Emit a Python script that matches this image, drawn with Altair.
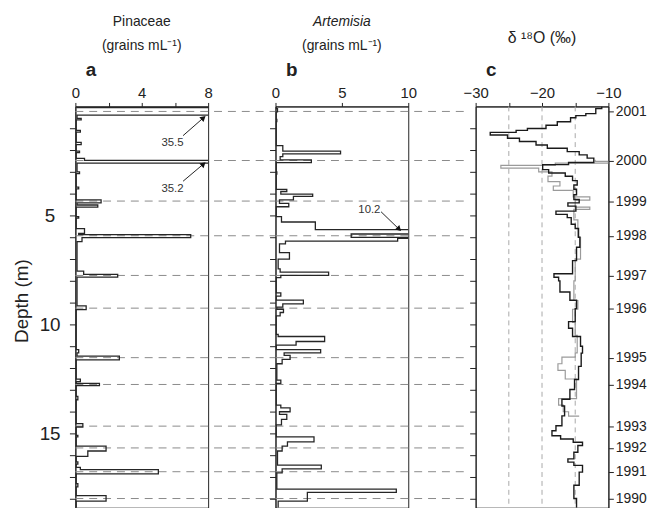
import altair as alt
import pandas as pd

FONT = "Liberation Sans"
INK = "#222222"
W = 134
H = 405
GAP = 68
DMAX = 18.4

# ---- data -------------------------------------------------------------
years = ["2001", "2000", "1999", "1998", "1997", "1996",
         "1995", "1994", "1993", "1992", "1991", "1990"]
year_depth = [0.23, 2.48, 4.34, 5.93, 7.75, 9.25,
              11.52, 12.75, 14.66, 15.66, 16.75, 17.98]

pin_depth = [0.00, 0.05, 0.40, 0.55, 0.62, 1.10, 1.18, 1.65, 1.75, 2.05, 2.12, 2.38,
             2.47, 2.60, 3.00, 3.08, 3.70, 3.78, 4.28, 4.42, 4.52, 4.62, 5.05, 5.12,
             5.60, 5.82, 5.88, 6.02, 6.20, 7.55, 7.70, 7.83, 9.15, 9.32, 11.15, 11.30,
             11.45, 11.62, 12.50, 12.62, 12.70, 12.80, 13.30, 13.45, 14.55, 14.70, 15.08,
             15.15, 15.58, 15.80, 16.05, 16.30, 16.40, 16.55, 16.65, 16.85, 17.30, 17.45,
             17.85, 18.10, 18.40]
pin_value = [0.1, 35.5, 0.1, 0.35, 0.05, 0.3, 0.05, 0.35, 0.05, 0.25, 0.05, 0.55,
             35.2, 0.1, 0.25, 0.05, 0.2, 0.05, 1.55, 0.1, 1.35, 0.05, 0.2, 0.05,
             0.55, 0.2, 6.95, 0.4, 0.1, 0.5, 2.55, 0.1, 0.65, 0.05, 0.2, 0.1,
             2.65, 0.05, 0.3, 0.05, 1.45, 0.05, 0.15, 0.05, 0.45, 0.05, 0.15,
             0.05, 1.85, 0.75, 0.05, 0.15, 0.05, 0.3, 5.0, 0.05, 0.15, 0.05,
             1.85, 0.05, 0.05]

art_depth = [0.00, 0.10, 0.25, 0.60, 0.70, 1.80, 2.05, 2.18, 2.30, 2.45, 2.58, 3.00,
             3.10, 3.80, 3.90, 4.02, 4.12, 4.28, 4.45, 4.60, 5.05, 5.30, 5.65, 5.85,
             6.00, 6.05, 6.18, 6.30, 6.70, 7.00, 7.45, 7.60, 7.75, 7.85, 8.55, 8.70,
             8.88, 9.05, 9.20, 9.30, 9.45, 9.60, 10.45, 10.55, 10.78, 10.95, 11.15, 11.30,
             11.42, 11.60, 11.80, 12.55, 12.70, 13.70, 13.82, 14.00, 14.12, 14.35, 14.60,
             15.15, 15.38, 15.58, 15.80, 16.45, 16.62, 16.80, 17.55, 17.70, 18.10, 18.40]
art_value = [0.05, 0.15, 0.05, 0.1, 0.05, 0.55, 4.9, 0.55, 0.35, 2.7, 0.05, 0.1,
             0.05, 0.85, 0.4, 2.8, 1.35, 0.3, 1.0, 0.05, 0.45, 3.0, 10.2, 5.7,
             10.2, 9.2, 0.75, 0.3, 1.05, 0.2, 0.35, 4.0, 0.4, 0.05, 0.4, 0.05,
             2.1, 0.55, 0.1, 0.6, 0.35, 0.05, 0.2, 3.7, 1.55, 0.05, 3.4, 0.65,
             1.1, 0.5, 0.1, 0.4, 0.05, 0.4, 1.1, 0.3, 0.85, 0.45, 0.05,
             2.9, 0.9, 0.5, 0.15, 3.45, 0.5, 0.1, 9.1, 2.4, 0.2, 0.2]

d18_depth = [0.00, 0.10, 0.33, 0.42, 0.52, 0.70, 0.86, 1.01, 1.10, 1.19, 1.31, 1.46,
             1.61, 1.77, 1.92, 2.07, 2.22, 2.37, 2.57, 2.67, 2.90, 3.05, 3.20, 3.40,
             3.60, 3.80, 4.05, 4.27, 4.42, 4.57, 4.80, 4.95, 5.10, 5.40, 5.60, 6.00,
             6.46, 7.07, 7.67, 7.83, 8.00, 8.51, 8.89, 9.27, 9.87, 10.17, 10.55, 11.00,
             11.31, 11.92, 12.52, 12.98, 13.43, 13.74, 14.19, 14.64, 14.87, 15.10, 15.25,
             15.40, 15.55, 15.86, 16.16, 16.31, 16.46, 16.77, 17.37, 17.98, 18.40]
d18_value = [-11.0, -11.9, -13.4, -14.9, -15.7, -17.7, -19.4, -22.2, -23.9, -27.8, -25.2, -23.4,
             -20.9, -19.2, -16.2, -14.4, -13.2, -12.2, -16.0, -19.9, -19.0, -16.5, -15.4, -14.7,
             -15.2, -14.8, -15.2, -14.4, -16.1, -14.9, -17.9, -16.2, -15.6, -15.0, -14.5, -14.3,
             -14.8, -15.4, -18.2, -17.5, -17.3, -15.8, -14.8, -15.0, -16.0, -15.4, -14.2, -13.9,
             -14.1, -14.5, -15.1, -15.8, -17.0, -16.6, -17.0, -17.9, -18.5, -17.2, -15.3,
             -13.9, -14.6, -15.2, -16.1, -15.2, -13.9, -14.4, -15.2, -14.8, -14.8]

d18g_depth = [2.45, 2.52, 2.60, 2.70, 2.83, 3.00, 3.20, 3.45, 3.65, 3.85, 4.15, 4.30,
              4.62, 4.72, 5.20, 6.00, 7.00, 8.00, 8.90, 9.30, 9.90, 10.50, 11.30, 11.50,
              11.80, 12.10, 12.50, 13.40, 13.70, 14.00, 14.20]
d18g_value = [-12.0, -10.0, -18.0, -26.2, -20.5, -18.5, -19.1, -17.3, -18.3, -15.3, -12.8, -15.0,
              -12.8, -15.2, -14.6, -14.2, -15.0, -15.2, -14.6, -15.4, -15.0, -14.7, -15.0, -17.0,
              -17.6, -16.5, -14.8, -17.5, -16.8, -16.0, -14.4]

grid_c = [-25, -20, -15]

# annotations (off-scale peak values)
ann_a_label = ["35.5", "35.2"]
ann_a_value = [5.85, 5.85]
ann_a_depth = [1.66, 3.77]
arr_a_value = [6.49, 6.49]
arr_a_depth = [1.34, 3.43]
arr_a_value2 = [7.72, 7.72]
arr_a_depth2 = [0.52, 2.64]

ann_b_label = ["10.2"]
ann_b_value = [7.07]
ann_b_depth = [4.73]
arr_b_value = [7.95]
arr_b_depth = [4.83]
arr_b_value2 = [9.31]
arr_b_depth2 = [5.63]

# ---- frames -------------------------------------------------------------
years_df = pd.DataFrame({"year": years, "depth": year_depth})
pin_df = pd.DataFrame({"depth": pin_depth, "value": pin_value})
art_df = pd.DataFrame({"depth": art_depth, "value": art_value})
d18_df = pd.DataFrame({"depth": d18_depth, "value": d18_value})
d18g_df = pd.DataFrame({"depth": d18g_depth, "value": d18g_value})
grid_df = pd.DataFrame({"value": grid_c})
ann_a = pd.DataFrame({"label": ann_a_label, "value": ann_a_value, "depth": ann_a_depth})
arr_a = pd.DataFrame({"value": arr_a_value, "depth": arr_a_depth,
                      "value2": arr_a_value2, "depth2": arr_a_depth2})
head_a = pd.DataFrame({"value": arr_a_value2, "depth": arr_a_depth2})
ann_b = pd.DataFrame({"label": ann_b_label, "value": ann_b_value, "depth": ann_b_depth})
arr_b = pd.DataFrame({"value": arr_b_value, "depth": arr_b_depth,
                      "value2": arr_b_value2, "depth2": arr_b_depth2})
head_b = pd.DataFrame({"value": arr_b_value2, "depth": arr_b_depth2})

# ---- encodings ------------------------------------------------------------
yscale = alt.Scale(domain=[0, DMAX], reverse=True, nice=False, zero=False)
depth_ticks = list(range(1, 19))


def y_axis(labels):
    if labels:
        return alt.Axis(values=depth_ticks,
                        labelExpr="datum.value % 5 == 0 ? datum.label : ''",
                        labelFontSize=19, labelAlign="center", labelPadding=20,
                        labelOverlap=False, labelFlush=False, tickSize=6, grid=False,
                        title="Depth (m)", titleFontSize=19, titleFontWeight="normal",
                        titleAngle=270, titleAlign="center", titleBaseline="middle",
                        titleX=-54, titleY=196)
    return alt.Axis(values=depth_ticks, labels=False, tickSize=6, grid=False, title=None)


def x_axis(values, expr, letter):
    return alt.Axis(orient="top", values=values, labelExpr=expr, labelFontSize=15,
                    labelPadding=2, labelFlush=False, labelOverlap=False, tickSize=4,
                    grid=False, title=letter, titleFontSize=19, titleFontWeight="bold",
                    titleX=10, titleY=-31, titleAlign="left", titleBaseline="alphabetic")


def panel(xdomain, xaxis, yaxis, line_layers, extra_layers, rules_to):
    X = alt.X("value:Q", scale=alt.Scale(domain=xdomain, nice=False, zero=False), axis=xaxis)
    Y = alt.Y("depth:Q", scale=yscale, axis=yaxis)
    layers = []
    if rules_to is not None:
        layers.append(
            alt.Chart(years_df).mark_rule(stroke="#8a8a8a", strokeWidth=1, strokeDash=[8, 6], clip=False)
            .encode(y=Y, x=alt.value(0), x2=alt.value(rules_to)))
    for df, color, width in line_layers:
        layers.append(
            alt.Chart(df).mark_line(interpolate="step-before", clip=True, stroke=color,
                                    strokeWidth=width)
            .encode(x=X, y=Y, order=alt.Order("depth:Q")))
    for build in extra_layers:
        layers.append(build(X, Y))
    return layers, X


def annotations(ann, arr, head, angle):
    def text_layer(X, Y):
        return alt.Chart(ann).mark_text(font=FONT, fontSize=11.5, color="#333333").encode(
            x=X, y=Y, text="label:N")

    def arrow_layer(X, Y):
        return alt.Chart(arr).mark_rule(stroke=INK, strokeWidth=1).encode(
            x=X, y=Y, x2="value2:Q", y2="depth2:Q")

    def head_layer(X, Y):
        return alt.Chart(head).mark_point(shape="triangle-up", filled=True, size=40,
                                          color="#111111", opacity=1, angle=angle).encode(x=X, y=Y)
    return [text_layer, arrow_layer, head_layer]


def title(text, sub, italic, offset, size=14):
    kw = dict(text=text, font=FONT, fontSize=size, fontWeight="normal", color=INK,
              anchor="middle", frame="group", offset=offset)
    if italic:
        kw["fontStyle"] = "italic"
    if sub:
        kw.update(subtitle=sub, subtitleFont=FONT, subtitleFontSize=14, subtitleColor=INK,
                  subtitlePadding=10)
    return alt.TitleParams(**kw)


# panel a: Pinaceae
layers_a, _ = panel([0, 8],
                    x_axis([0, 2, 4, 6, 8], "datum.value % 4 == 0 ? datum.label : ''", "a"),
                    y_axis(True),
                    [(pin_df, "#262626", 1.3)],
                    annotations(ann_a, arr_a, head_a, 49),
                    W + GAP)
pa = alt.layer(*layers_a).properties(width=W, height=H,
                                     title=title("Pinaceae", "(grains mL⁻¹)", False, 8))

# panel b: Artemisia
layers_b, _ = panel([0, 10],
                    x_axis([0, 5, 10], "datum.label", "b"),
                    y_axis(False),
                    [(art_df, "#262626", 1.3)],
                    annotations(ann_b, arr_b, head_b, 134),
                    W + GAP - 12)
pb = alt.layer(*layers_b).properties(width=W, height=H,
                                     title=title("Artemisia", "(grains mL⁻¹)", True, 8))

# panel c: d18O
xaxis_c = x_axis([-30, -25, -20, -15, -10], "datum.value % 10 == 0 ? datum.label : ''", "c")


def grid_layer(X, Y):
    return alt.Chart(grid_df).mark_rule(stroke="#a8a8a8", strokeWidth=1, strokeDash=[5, 4]).encode(x=X)


layers_c, Xc = panel([-30, -10], xaxis_c, y_axis(False),
                     [(d18g_df, "#9a9a9a", 1.2), (d18_df, "#1a1a1a", 1.4)],
                     [], None)
inner_c = alt.layer(grid_layer(Xc, None), *layers_c)

year_expr = ("[" + ",".join("'%s'" % y for y in years) + "][indexof(["
             + ",".join(str(d) for d in year_depth) + "], datum.value)]")
year_axis = alt.Axis(orient="right", values=year_depth, labelExpr=year_expr,
                     labelFontSize=14, labelPadding=2, tickSize=5, labelOverlap=False,
                     labelFlush=False, grid=False, title=None, labelBaseline="middle")
year_layer = alt.Chart(years_df).mark_point(opacity=0).encode(
    y=alt.Y("depth:Q", scale=yscale, axis=year_axis))

pc = alt.layer(inner_c, year_layer).resolve_scale(y="independent").properties(
    width=W, height=H, title=title("δ ¹⁸O (‰)", None, False, 15, size=16))

chart = (alt.hconcat(pa, pb, pc, spacing=GAP, bounds="flush")
         .properties(padding={"left": 4, "top": 4, "right": 4, "bottom": 0},
                     background="white")
         .configure_view(stroke=INK, strokeWidth=1)
         .configure_axis(labelFont=FONT, titleFont=FONT, labelColor=INK, titleColor=INK,
                         domainColor=INK, tickColor=INK, domainWidth=1, tickWidth=1))

chart.save("out.html", embed_options={"renderer": "svg", "actions": False})
